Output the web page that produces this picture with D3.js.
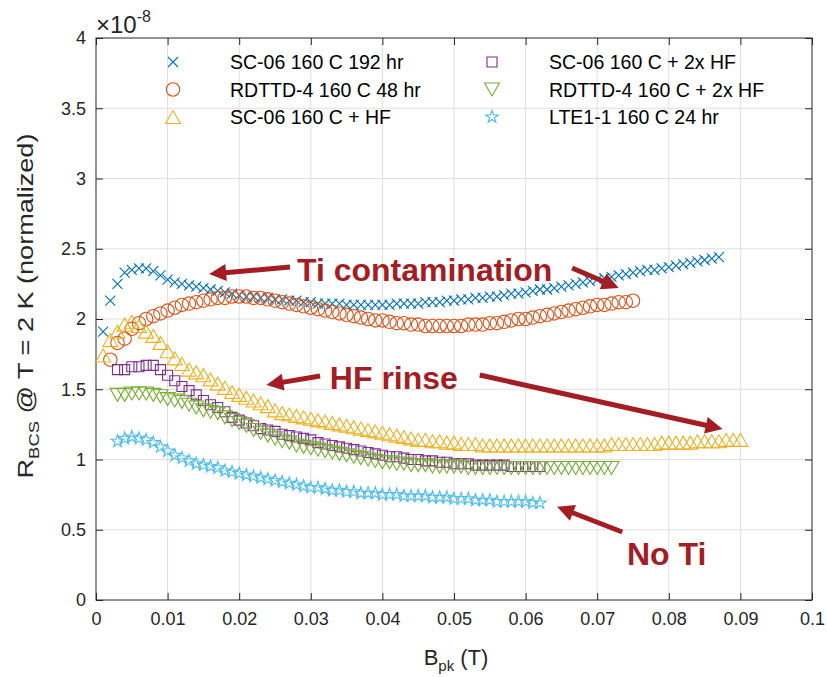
<!DOCTYPE html>
<html>
<head>
<meta charset="utf-8">
<script src="https://cdn.jsdelivr.net/npm/d3@7"></script>
<style>
  body { margin: 0; background: #fff; }
  text { font-family: "Liberation Sans", Arial, Helvetica, sans-serif; }
</style>
</head>
<body>
<svg id="chart" width="827" height="677"></svg>
<script>
// tick values
const xTicks = [0, 0.01, 0.02, 0.03, 0.04, 0.05, 0.06, 0.07, 0.08, 0.09, 0.1];
const yTicks = [0, 0.5, 1, 1.5, 2, 2.5, 3, 3.5, 4];

// B_pk sampling (T)
const bpkStep = 0.001;

// R_BCS values (x 1e-8)
const sc06_192hr = [
  1.91, 2.13, 2.25, 2.33, 2.35, 2.36, 2.36, 2.34, 2.31, 2.28,
  2.26, 2.25, 2.24, 2.23, 2.22, 2.21, 2.20, 2.19, 2.18, 2.17,
  2.16, 2.16, 2.15, 2.15, 2.14, 2.14, 2.13, 2.13, 2.12, 2.12,
  2.11, 2.11, 2.11, 2.11, 2.10, 2.10, 2.10, 2.10, 2.10, 2.10,
  2.10, 2.11, 2.11, 2.11, 2.11, 2.12, 2.12, 2.12, 2.13, 2.13,
  2.14, 2.14, 2.15, 2.15, 2.16, 2.16, 2.17, 2.18, 2.18, 2.19,
  2.20, 2.21, 2.21, 2.22, 2.23, 2.24, 2.25, 2.26, 2.27, 2.28,
  2.29, 2.30, 2.31, 2.32, 2.33, 2.34, 2.35, 2.35, 2.36, 2.37,
  2.38, 2.39, 2.40, 2.41, 2.42, 2.43, 2.44
];
const rdttd4_48hr = [
  1.71, 1.83, 1.86, 1.93, 1.97, 2.00, 2.02, 2.04, 2.06,
  2.08, 2.10, 2.11, 2.12, 2.13, 2.14, 2.15, 2.15, 2.16, 2.16,
  2.16, 2.15, 2.15, 2.14, 2.13, 2.12, 2.11, 2.10, 2.09, 2.08,
  2.07, 2.06, 2.05, 2.04, 2.03, 2.02, 2.01, 2.00, 1.99, 1.99,
  1.98, 1.97, 1.97, 1.96, 1.96, 1.95, 1.95, 1.95, 1.95, 1.95,
  1.95, 1.96, 1.96, 1.96, 1.97, 1.97, 1.98, 1.99, 2.00, 2.00,
  2.01, 2.02, 2.03, 2.04, 2.05, 2.06, 2.07, 2.08, 2.09, 2.10,
  2.10, 2.11, 2.12, 2.12, 2.13
];
const sc06_hf = [
  1.74, 1.85, 1.91, 1.96, 1.98, 1.95, 1.91, 1.88, 1.83, 1.77,
  1.72, 1.68, 1.64, 1.62, 1.60, 1.57, 1.54, 1.51, 1.48, 1.46,
  1.44, 1.42, 1.40, 1.38, 1.35, 1.33, 1.32, 1.31, 1.30, 1.29,
  1.28, 1.27, 1.26, 1.25, 1.24, 1.23, 1.22, 1.21, 1.20, 1.19,
  1.18, 1.17, 1.16, 1.15, 1.14, 1.14, 1.13, 1.13, 1.12, 1.12,
  1.11, 1.11, 1.11, 1.10, 1.10, 1.10, 1.10, 1.10, 1.10, 1.10,
  1.10, 1.10, 1.10, 1.10, 1.10, 1.10, 1.10, 1.10, 1.10, 1.10,
  1.10, 1.11, 1.11, 1.11, 1.11, 1.11, 1.11, 1.11, 1.12, 1.12,
  1.12, 1.12, 1.12, 1.13, 1.13, 1.13, 1.13, 1.14, 1.14, 1.14
];
const sc06_2xhf = [
  1.64, 1.64, 1.66, 1.66, 1.67, 1.67, 1.64, 1.60, 1.56, 1.52,
  1.49, 1.46, 1.42, 1.39, 1.37, 1.34, 1.30, 1.28, 1.26, 1.24,
  1.22, 1.21, 1.20, 1.18, 1.17, 1.16, 1.15, 1.14, 1.12, 1.11,
  1.10, 1.09, 1.08, 1.07, 1.06, 1.05, 1.04, 1.03, 1.02, 1.02,
  1.01, 1.00, 1.00, 0.99, 0.99, 0.98, 0.98, 0.97, 0.97, 0.97,
  0.96, 0.96, 0.96, 0.96, 0.96, 0.95, 0.95, 0.95, 0.95, 0.95
];
const rdttd4_2xhf = [
  1.46, 1.46, 1.47, 1.47, 1.47, 1.46, 1.45, 1.43, 1.42, 1.41,
  1.39, 1.37, 1.35, 1.34, 1.33, 1.30, 1.28, 1.26, 1.24, 1.21,
  1.19, 1.17, 1.15, 1.13, 1.12, 1.10, 1.09, 1.08, 1.07, 1.06,
  1.05, 1.04, 1.03, 1.02, 1.01, 1.00, 0.99, 0.98, 0.98, 0.97,
  0.97, 0.96, 0.96, 0.96, 0.95, 0.95, 0.95, 0.95, 0.95, 0.94,
  0.94, 0.94, 0.94, 0.94, 0.94, 0.94, 0.94, 0.94, 0.94, 0.94,
  0.94, 0.94, 0.94, 0.94, 0.94, 0.94, 0.94, 0.94, 0.94, 0.94
];
const lte11_24hr = [
  1.13, 1.15, 1.16, 1.15, 1.14, 1.12, 1.09, 1.06, 1.03, 1.01,
  0.99, 0.97, 0.96, 0.95, 0.94, 0.92, 0.91, 0.90, 0.89, 0.88,
  0.87, 0.86, 0.85, 0.84, 0.83, 0.82, 0.81, 0.80, 0.80, 0.79,
  0.78, 0.78, 0.77, 0.77, 0.76, 0.76, 0.76, 0.75, 0.75, 0.75,
  0.74, 0.74, 0.74, 0.74, 0.73, 0.73, 0.73, 0.72, 0.72, 0.72,
  0.71, 0.71, 0.71, 0.70, 0.70, 0.70, 0.70, 0.70, 0.69, 0.69
];

const seriesNames = ['SC-06 160 C 192 hr', 'RDTTD-4 160 C 48 hr', 'SC-06 160 C + HF',
  'SC-06 160 C + 2x HF', 'RDTTD-4 160 C + 2x HF', 'LTE1-1 160 C 24 hr'];
const seriesValues = [sc06_192hr, rdttd4_48hr, sc06_hf, sc06_2xhf, rdttd4_2xhf, lte11_24hr];
const seriesFirstB = [0.001, 0.002, 0.001, 0.003, 0.003, 0.003];

// annotations: text and arrows in data units
const noteTexts = [
  { text: 'Ti contamination', x: 0.0459, y: 2.27 },
  { text: 'HF rinse', x: 0.0416, y: 1.50 },
  { text: 'No Ti', x: 0.0797, y: 0.25 }
];
const noteArrows = [
  [0.0271, 2.370, 0.0158, 2.320],
  [0.0665, 2.363, 0.0730, 2.220],
  [0.0313, 1.594, 0.0238, 1.530],
  [0.0536, 1.601, 0.0875, 1.217],
  [0.0735, 0.484, 0.0644, 0.664]
];

const colors = ['#0072BD', '#D95319', '#EDB120', '#7E2F8E', '#77AC30', '#4DBEEE'];
const axisColor = '#262626';
const noteColor = '#A51D24';

const svg = d3.select('#chart');
const plotLeft = 96, plotRight = 812, plotTop = 38, plotBottom = 600;

const x = d3.scaleLinear().domain([0, 0.1]).range([plotLeft, plotRight]);
const y = d3.scaleLinear().domain([0, 4]).range([plotBottom, plotTop]);

// marker shapes
const star = d3.symbol(d3.symbolStar, 48)();
const circ = d3.symbol(d3.symbolCircle, Math.PI * 6.7 * 6.7)();
const shapes = [
  'M-5,-5L5,5M-5,5L5,-5',
  circ,
  'M0,-6.5L7.5,6.5L-7.5,6.5Z',
  'M-5,-5H5V5H-5Z',
  'M0,6.5L7.5,-6.5L-7.5,-6.5Z',
  star
];

// grid
const grid = svg.append('g').attr('stroke', '#dfdfdf').attr('stroke-width', 1);
grid.selectAll('.gx').data(xTicks.slice(1, -1)).enter().append('line')
  .attr('x1', d => x(d)).attr('x2', d => x(d)).attr('y1', plotTop).attr('y2', plotBottom);
grid.selectAll('.gy').data(yTicks.slice(1, -1)).enter().append('line')
  .attr('y1', d => y(d)).attr('y2', d => y(d)).attr('x1', plotLeft).attr('x2', plotRight);

// axes, ticks inward on all sides
const fmt = d3.format('~g');
function styleAxis(g, showText) {
  g.select('.domain').remove();
  g.selectAll('line').attr('stroke', axisColor);
  g.selectAll('text').attr('fill', axisColor).style('font-size', '18px')
    .style('font-family', '"Liberation Sans", Arial, sans-serif');
  if (!showText) g.selectAll('text').remove();
}
svg.append('g').attr('transform', `translate(0,${plotBottom})`)
  .call(d3.axisBottom(x).tickValues(xTicks).tickFormat(fmt).tickSizeInner(-7).tickSizeOuter(0).tickPadding(12))
  .call(g => styleAxis(g, true));
svg.append('g').attr('transform', `translate(0,${plotTop})`)
  .call(d3.axisTop(x).tickValues(xTicks).tickSizeInner(-7).tickSizeOuter(0))
  .call(g => styleAxis(g, false));
svg.append('g').attr('transform', `translate(${plotLeft},0)`)
  .call(d3.axisLeft(y).tickValues(yTicks).tickFormat(fmt).tickSizeInner(-7).tickSizeOuter(0).tickPadding(10))
  .call(g => styleAxis(g, true));
svg.append('g').attr('transform', `translate(${plotRight},0)`)
  .call(d3.axisRight(y).tickValues(yTicks).tickSizeInner(-7).tickSizeOuter(0))
  .call(g => styleAxis(g, false));

svg.append('rect').attr('x', plotLeft).attr('y', plotTop)
  .attr('width', plotRight - plotLeft).attr('height', plotBottom - plotTop)
  .attr('fill', 'none').attr('stroke', axisColor).attr('stroke-width', 1);

// exponent label
const expo = svg.append('text').attr('x', 96).attr('y', 33)
  .attr('fill', axisColor).style('font-size', '24px');
expo.append('tspan').text('\u00d710');
expo.append('tspan').attr('dy', -11).style('font-size', '16px').text('-8');

// data series
seriesValues.forEach((vals, si) => {
  const pts = vals.map((v, i) => [seriesFirstB[si] + i * bpkStep, v]);
  svg.append('g')
    .attr('fill', 'none').attr('stroke', colors[si]).attr('stroke-width', 1.1)
    .selectAll('path').data(pts).enter().append('path')
    .attr('d', shapes[si])
    .attr('transform', d => `translate(${x(d[0])},${y(d[1])})`);
});

// legend (two columns, transparent)
const legend = svg.append('g');
seriesNames.forEach((name, i) => {
  const col = Math.floor(i / 3), row = i % 3;
  const mx = 173 + col * 319, ty = 62 + row * 27.5;
  legend.append('path').attr('d', shapes[i])
    .attr('transform', `translate(${mx},${ty})`)
    .attr('fill', 'none').attr('stroke', colors[i]).attr('stroke-width', 1.1);
  legend.append('text').attr('x', mx + 57).attr('y', ty + 7)
    .attr('fill', '#000').style('font-size', '19.5px').text(name);
});

// axis labels
const xl = svg.append('text').attr('x', 456).attr('y', 665)
  .attr('text-anchor', 'middle').attr('fill', axisColor).style('font-size', '22px');
xl.append('tspan').text('B');
xl.append('tspan').attr('dy', 6).style('font-size', '15px').text('pk');
xl.append('tspan').attr('dy', -6).text(' (T)');

const yl = svg.append('text').attr('text-anchor', 'middle')
  .attr('fill', axisColor).style('font-size', '22px');
yl.append('tspan').text('R');
yl.append('tspan').attr('dy', 6).style('font-size', '15px').text('BCS');
yl.append('tspan').attr('dy', -6).text(' @ T = 2 K (normalized)');
const ylLen = yl.node().getComputedTextLength();
const ylScale = 345 / ylLen;
yl.attr('transform', `translate(33,306) rotate(-90) scale(${ylScale},1)`);

// annotations
const notes = svg.append('g');
noteTexts.forEach(n => {
  notes.append('text').attr('x', x(n.x)).attr('y', y(n.y))
    .attr('text-anchor', 'middle').attr('fill', noteColor)
    .style('font-size', '32px').style('font-weight', 'bold').text(n.text);
});
noteArrows.forEach(a => {
  const x0 = x(a[0]), y0 = y(a[1]), x1 = x(a[2]), y1 = y(a[3]);
  const ang = Math.atan2(y1 - y0, x1 - x0);
  const hl = 17, hw = 8.5;
  const bx = x1 - hl * Math.cos(ang), by = y1 - hl * Math.sin(ang);
  notes.append('line').attr('x1', x0).attr('y1', y0).attr('x2', bx + Math.cos(ang)).attr('y2', by + Math.sin(ang))
    .attr('stroke', noteColor).attr('stroke-width', 5);
  const px = -Math.sin(ang), py = Math.cos(ang);
  notes.append('path')
    .attr('d', `M${x1},${y1}L${bx + px * hw},${by + py * hw}L${bx - px * hw},${by - py * hw}Z`)
    .attr('fill', noteColor);
});
</script>
</body>
</html>
